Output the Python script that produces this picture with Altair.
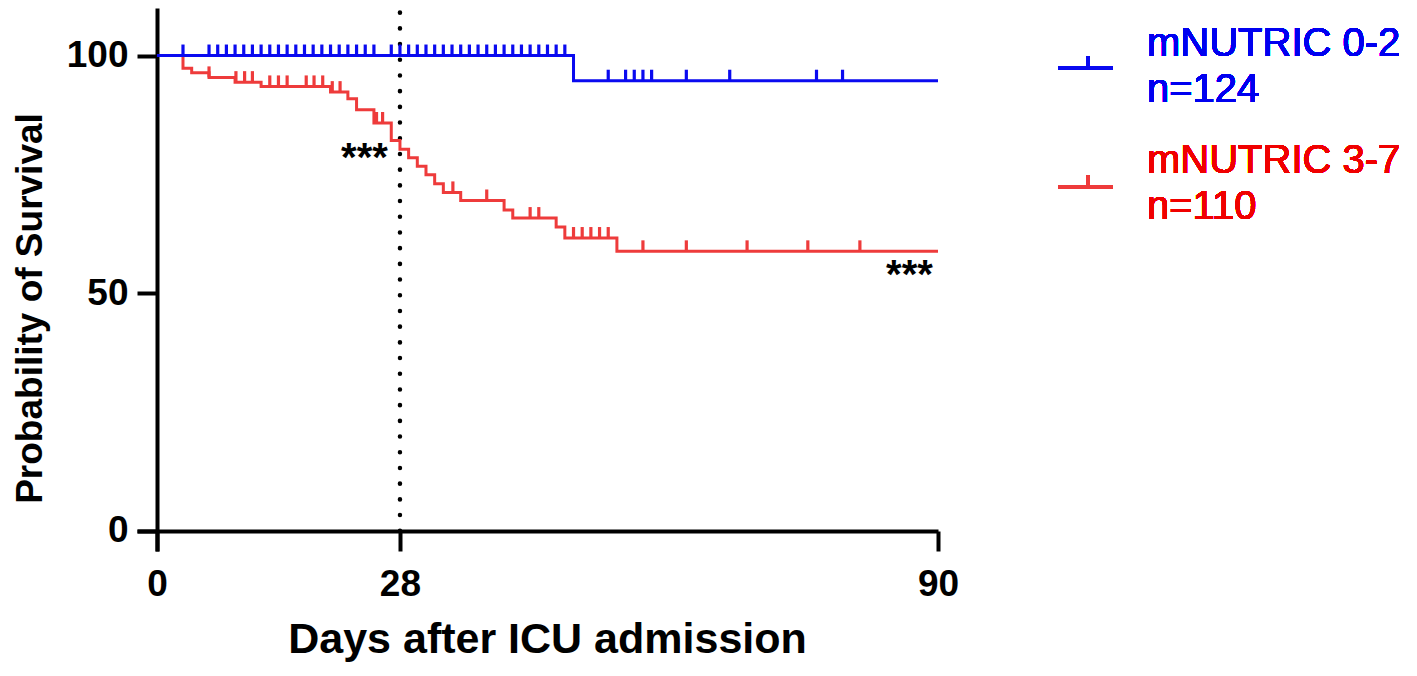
import altair as alt
import pandas as pd

# ---------------- data ----------------
groups = ["mNUTRIC 0-2", "mNUTRIC 3-7"]
group_sizes = ["n=124", "n=110"]
line_colors = ["#0A0AF0", "#EE3B3B"]
text_colors = ["#0000F0", "#F00000"]

# Kaplan-Meier step points (day, survival %) for each group
blue_days = [0, 48, 90]
blue_surv = [100, 94.7, 94.7]
blue_censor_days = [3, 6, 7, 8, 9, 10, 11, 12, 13, 14, 15, 16, 17, 18, 19, 20, 21, 22, 23,
                    24, 25, 27, 28, 29, 30, 31, 32, 33, 34, 35, 36, 37, 38, 39, 40, 41, 42,
                    43, 44, 45, 46, 47, 52, 54, 55, 56, 57, 61, 66, 76, 79]

red_days = [0, 3, 4, 6, 9, 12, 20, 22, 23, 25, 27, 28, 29, 30, 31, 32, 33, 35, 40, 41,
            46, 47, 53, 90]
red_surv = [100, 97.3, 96.4, 95.4, 94.4, 93.5, 92.3, 90.9, 88.6, 85.8, 82.1, 80.3, 78.5,
            76.7, 74.9, 73.0, 71.2, 69.5, 67.5, 65.8, 63.9, 61.6, 58.8, 58.8]
red_censor_days = [6, 9.1, 10.1, 11, 13, 14, 15, 17.2, 18.1, 19.1, 20.2, 21.1, 25.3, 26,
                   34.1, 38, 43, 44, 48, 49, 50, 51, 52, 56, 61, 68, 75, 81]

landmark_day = [28]
sig_days = [26.6, 89.4]
sig_surv = [75.6, 51.0]
sig_text = ["***", "***"]

x_ticks = [0, 28, 90]
y_ticks = [0, 50, 100]

FONT = "Liberation Sans"


def surv_at(days, surv, t):
    s = surv[0]
    for d, v in zip(days, surv):
        if d <= t:
            s = v
    return s


curve_rows = []
for g, days, surv in [(groups[1], red_days, red_surv), (groups[0], blue_days, blue_surv)]:
    for d, v in zip(days, surv):
        curve_rows.append({"group": g, "day": d, "surv": v})
curves = pd.DataFrame(curve_rows)

cens_rows = []
for g, cd, days, surv in [(groups[1], red_censor_days, red_days, red_surv),
                          (groups[0], blue_censor_days, blue_days, blue_surv)]:
    for t in cd:
        cens_rows.append({"group": g, "day": t, "surv": surv_at(days, surv, t)})
censors = pd.DataFrame(cens_rows)

landmark = pd.DataFrame({"day": landmark_day, "y0": [0], "y1": [110]})
sig = pd.DataFrame({"day": sig_days, "surv": sig_surv, "txt": sig_text})

W, H = 801, 543
xscale = alt.Scale(domain=[-2.3, 90], nice=False, zero=False)
yscale = alt.Scale(domain=[-4.25, 110], nice=False, zero=False)
cscale = alt.Scale(domain=groups, range=line_colors)

xaxis = alt.Axis(values=x_ticks, title="Days after ICU admission", offset=-20,
                 tickSize=20, labelPadding=15, labelFlush=False,
                 titleX=410, titleY=121, titleBaseline="alphabetic", titleFontSize=43)
yaxis = alt.Axis(values=y_ticks, title="Probability of Survival", offset=-20,
                 tickSize=20, labelPadding=9, labelFlush=False,
                 titleX=-116, titleY=300, titleBaseline="alphabetic", titleAngle=-90,
                 titleFontSize=37)

x = alt.X("day:Q", scale=xscale, axis=xaxis)
y = alt.Y("surv:Q", scale=yscale, axis=yaxis)

lines = alt.Chart(curves).mark_line(interpolate="step-after", strokeWidth=3).encode(
    x=x, y=y, color=alt.Color("group:N", scale=cscale, legend=None),
    detail="group:N")

ticks = alt.Chart(censors).mark_tick(orient="vertical", size=11, thickness=3.2, yOffset=-5.5,
                                     opacity=1).encode(
    x="day:Q", y="surv:Q", color=alt.Color("group:N", scale=cscale, legend=None))

dotted = alt.Chart(landmark).mark_rule(color="black", strokeWidth=4.5, strokeCap="round",
                                       strokeDash=[0.1, 15.6]).encode(
    x="day:Q", y="y0:Q", y2="y1:Q")

stars = alt.Chart(sig).mark_text(font=FONT, fontSize=40, fontWeight="bold", align="right",
                                 baseline="alphabetic", color="black").encode(
    x="day:Q", y="surv:Q", text="txt:N")

# legend (decoration, placed in pixels to the right of the plot)
leg_layers = []
sym_y = [59.7, 178.7]
txt_y = [48, 165]
for i in range(2):
    leg_layers.append(alt.Chart(curves).mark_rule(color=line_colors[i], strokeWidth=3).encode(
        x=alt.value(921), x2=alt.value(976), y=alt.value(sym_y[i])))
    leg_layers.append(alt.Chart(curves).mark_rule(color=line_colors[i], strokeWidth=3).encode(
        x=alt.value(951), y=alt.value(sym_y[i] - 11), y2=alt.value(sym_y[i])))
    leg_layers.append(alt.Chart(curves).mark_text(
        text=[groups[i], group_sizes[i]], font=FONT, fontSize=40, fontWeight="normal",
        lineHeight=46, align="left", baseline="alphabetic", color=text_colors[i]).encode(
        x=alt.value(1010), y=alt.value(txt_y[i])))

chart = alt.layer(dotted, lines, ticks, stars, *leg_layers).properties(
    width=W, height=H,
    padding={"left": 129, "top": 0, "right": 470, "bottom": 117},
    autosize=alt.AutoSizeParams(type="none"),
).configure_view(stroke=None).configure_axis(
    grid=False, domainColor="black", domainWidth=4, tickColor="black", tickWidth=4,
    labelFont=FONT, labelFontSize=37, labelFontWeight="bold", labelColor="black",
    titleFont=FONT, titleFontSize=42, titleFontWeight="bold", titleColor="black",
)

chart.save("out.html", embed_options={"renderer": "svg", "actions": False})
